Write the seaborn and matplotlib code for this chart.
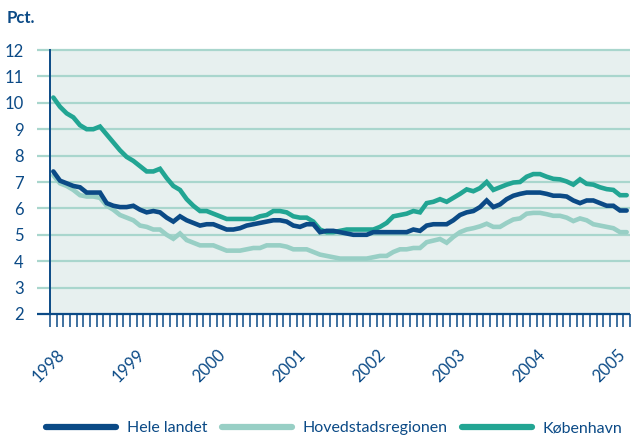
import matplotlib
matplotlib.use("Agg")
import matplotlib.pyplot as plt
import matplotlib.transforms as mtransforms
import seaborn as sns
import numpy as np
import pandas as pd

# Monthly values, Jan 1998 - Mar 2005 (pct.)
hele_landet = [
    7.4, 7.05, 6.95, 6.85, 6.8, 6.6, 6.6, 6.6, 6.2, 6.1,
    6.05, 6.05, 6.1, 5.95, 5.85, 5.9, 5.85, 5.65, 5.5, 5.7,
    5.55, 5.45, 5.35, 5.4, 5.4, 5.3, 5.2, 5.2, 5.25, 5.35,
    5.4, 5.45, 5.5, 5.55, 5.55, 5.5, 5.35, 5.3, 5.4, 5.4,
    5.1, 5.15, 5.15, 5.1, 5.05, 5.0, 5.0, 5.0, 5.1, 5.1,
    5.1, 5.1, 5.1, 5.1, 5.2,
    5.15, 5.35, 5.4, 5.4, 5.4, 5.55, 5.75, 5.85, 5.9, 6.05,
    6.3, 6.05, 6.15, 6.35, 6.48, 6.55, 6.6, 6.6, 6.6, 6.55,
    6.48, 6.48, 6.45, 6.3, 6.2, 6.3, 6.3, 6.2, 6.1, 6.1,
    5.92, 5.92,
]
hovedstadsregionen = [
    7.25, 6.95, 6.85, 6.7, 6.5, 6.45, 6.45, 6.4, 6.1, 5.95,
    5.75, 5.65, 5.55, 5.35, 5.3, 5.2, 5.2, 5.0, 4.85, 5.05,
    4.8, 4.7, 4.6, 4.6, 4.6, 4.5, 4.4, 4.4, 4.4, 4.45,
    4.5, 4.5, 4.6, 4.6, 4.6, 4.55, 4.45, 4.45, 4.45, 4.35,
    4.25, 4.2, 4.15, 4.1, 4.1, 4.1, 4.1, 4.1, 4.15, 4.2,
    4.2, 4.35, 4.45, 4.45, 4.5,
    4.5, 4.72, 4.78, 4.84, 4.7, 4.92, 5.1, 5.2, 5.25, 5.32,
    5.42, 5.3, 5.3, 5.45, 5.58, 5.62, 5.8, 5.83, 5.83, 5.78,
    5.72, 5.72, 5.65, 5.52, 5.62, 5.55, 5.4, 5.35, 5.3, 5.25,
    5.1, 5.1,
]
koebenhavn = [
    10.2, 9.85, 9.6, 9.45, 9.15, 9.0, 9.0, 9.1, 8.8, 8.5,
    8.2, 7.95, 7.8, 7.6, 7.4, 7.4, 7.5, 7.15, 6.85, 6.7,
    6.35, 6.1, 5.9, 5.9, 5.8, 5.7, 5.6, 5.6, 5.6, 5.6,
    5.6, 5.7, 5.75, 5.9, 5.9, 5.85, 5.7, 5.65, 5.65, 5.5,
    5.2, 5.1, 5.1, 5.15, 5.2, 5.2, 5.2, 5.2, 5.2, 5.3,
    5.45, 5.7, 5.75, 5.8, 5.9,
    5.85, 6.2, 6.25, 6.35, 6.25, 6.4, 6.55, 6.72, 6.65, 6.77,
    7.0, 6.7, 6.8, 6.9, 6.98, 7.0, 7.2, 7.3, 7.3, 7.2,
    7.12, 7.1, 7.02, 6.9, 7.1, 6.93, 6.9, 6.8, 6.73, 6.7,
    6.5, 6.5,
]
series_names = ["Hele landet", "Hovedstadsregionen", "København"]
years = ["1998", "1999", "2000", "2001", "2002", "2003", "2004", "2005"]
y_ticks = [2, 3, 4, 5, 6, 7, 8, 9, 10, 11, 12]

DARK = "#0b4a86"
colors = {"Hele landet": DARK, "Hovedstadsregionen": "#98cfc5", "København": "#22a593"}
GRID = "#a9d6cd"
BG = "#e7f0ef"

n = len(hele_landet)
month = np.arange(n) + 0.5  # plotted mid-month
df = pd.concat([
    pd.DataFrame({"month": month, "value": vals, "serie": name})
    for name, vals in zip(series_names, [hele_landet, hovedstadsregionen, koebenhavn])
])

sns.set_theme(style="white")
plt.rcParams["font.family"] = ["Lato", "DejaVu Sans"]

fig = plt.figure(figsize=(6.33, 4.40), dpi=100)
ax = fig.add_axes([50 / 633, 1 - 314 / 440, 580 / 633, 264 / 440])
ax.set_facecolor(BG)

sns.lineplot(data=df, x="month", y="value", hue="serie", hue_order=series_names,
             palette=colors, linewidth=3.3, ax=ax, legend=True)
# Hele landet on top, then Hovedstadsregionen, then København
for line, z in zip(ax.lines[:3], [5, 3, 4]):
    line.set_zorder(z)
    line.set_solid_joinstyle("miter")

ax.set_xlim(0, n)
ax.set_ylim(2, 12)

# gridlines reaching a bit left of the y-axis
ax.hlines(y_ticks[1:], -13 / 580, 1, transform=ax.get_yaxis_transform(),
          color=GRID, lw=1.6, zorder=1, clip_on=False)
ax.hlines([2], -13 / 580, 1, transform=ax.get_yaxis_transform(),
          color=DARK, lw=1.6, zorder=6, clip_on=False)

for s in ["top", "right", "bottom"]:
    ax.spines[s].set_visible(False)
ax.spines["left"].set_color(DARK)
ax.spines["left"].set_linewidth(1.4)

ax.set_yticks(y_ticks)
ax.set_yticklabels([str(v) for v in y_ticks])
ax.tick_params(axis="y", length=0, pad=19, labelsize=12, labelcolor=DARK)

ax.set_xticks(np.arange(0, n + 1), minor=True)
ax.set_xticks(np.arange(0, 12 * len(years), 12))
ax.set_xticklabels(years, rotation=45, ha="right", va="top", rotation_mode="anchor")
ax.tick_params(axis="x", which="both", direction="out", length=9, width=1.1,
               color=DARK, bottom=True)
ax.tick_params(axis="x", which="major", pad=12, labelsize=12, labelcolor=DARK)
shift = mtransforms.ScaledTranslation(7 / 100, -3 / 100, fig.dpi_scale_trans)
for lab in ax.get_xticklabels():
    lab.set_transform(lab.get_transform() + shift)
ax.set_xlabel("")
ax.set_ylabel("")

fig.text(7 / 633, 1 - 18 / 440, "Pct.", fontsize=12, fontweight="bold",
         color=DARK, va="center", ha="left")

handles, labels = ax.get_legend_handles_labels()
for h in handles:
    h.set_linewidth(4.5)
    h.set_solid_capstyle("round")
ax.legend(handles, labels, loc="center left", bbox_to_anchor=(46 / 633, 12 / 440),
          bbox_transform=fig.transFigure, ncol=3, frameon=False, fontsize=11.5,
          handlelength=4.4, handletextpad=0.65, columnspacing=0.9,
          borderpad=0, borderaxespad=0, labelcolor=DARK)

fig.savefig("out.png", dpi=100)
